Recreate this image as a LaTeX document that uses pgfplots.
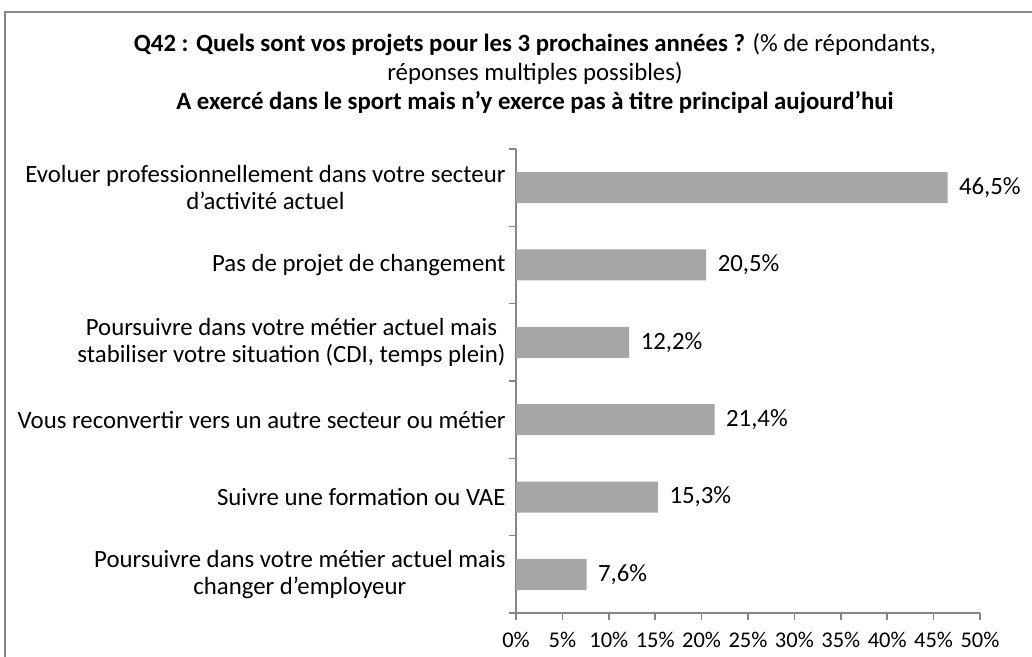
\documentclass[border=0pt]{standalone}
\usepackage{fontspec}
\setmainfont{Carlito}
\usepackage{pgfplots}
\pgfplotsset{compat=1.18}
\definecolor{barfill}{RGB}{166,166,166}
\definecolor{axisgray}{RGB}{134,134,134}
\begin{document}
\begin{tikzpicture}
\path[use as bounding box] (0,0) rectangle (1032pt,656pt);
% outer frame (right and bottom edges fall outside the picture)
\draw[axisgray, line width=1.5pt] (5pt,-20pt) -- (5pt,644pt) -- (1060pt,644pt);
\node[font=\fontsize{24.8}{29}\selectfont, align=center] at (535pt,582pt)
  {\textbf{Q42 : Quels sont vos projets pour les 3 prochaines années ?} (\% de répondants,\\
   réponses multiples possibles)\\
   \textbf{A exercé dans le sport mais n'y exerce pas à titre principal aujourd'hui}};
\begin{axis}[
    at={(516pt,43pt)}, anchor=south west,
    scale only axis, width=464pt, height=464pt,
    xbar, bar width=31pt,
    xmin=0, xmax=50, ymin=-0.5, ymax=5.5,
    axis x line=bottom, axis y line=left,
    axis line style={axisgray, line width=1.5pt, -},
    tick align=outside, major tick length=7pt, minor tick length=7pt,
    every tick/.style={axisgray, line width=1.5pt},
    xtick={0,5,...,50},
    xticklabel={\pgfmathparse{int(\tick)}\pgfmathresult\%},
    ytick={0,...,5},
    minor ytick={-0.5,0.5,...,5.5},
    major y tick style={draw=none},
    yticklabels={
        {Poursuivre dans votre métier actuel mais\\changer d'employeur},
        {Suivre une formation ou VAE},
        {Vous reconvertir vers un autre secteur ou métier},
        {Poursuivre dans votre métier actuel mais\\stabiliser votre situation (CDI, temps plein)},
        {Pas de projet de changement},
        {Evoluer professionnellement dans votre secteur\\d'activité actuel}},
    yticklabel style={align=center, font=\fontsize{24.8}{27}\selectfont},
    xticklabel style={font=\fontsize{22.5}{25}\selectfont, yshift=-9pt},
    nodes near coords={\pgfmathprintnumber[fixed,fixed zerofill,precision=1,use comma,assume math mode=true]{\pgfplotspointmeta}\%},
    nodes near coords style={font=\fontsize{24.8}{27}\selectfont, xshift=8pt},
]
    \addplot[fill=barfill, draw=none] coordinates {
        (7.6,0) (15.3,1) (21.4,2) (12.2,3) (20.5,4) (46.5,5)
    };
\end{axis}
\end{tikzpicture}
\end{document}
